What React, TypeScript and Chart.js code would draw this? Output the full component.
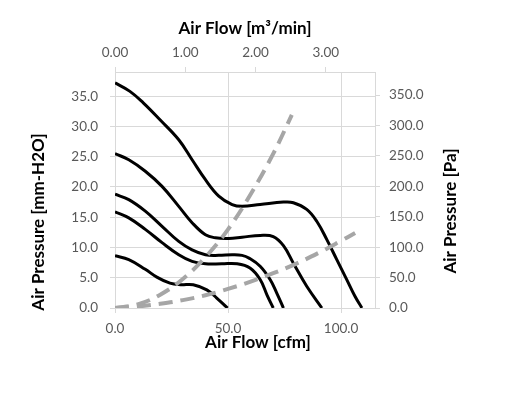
import React, { useEffect, useRef } from "react";
import { Chart, registerables } from "chart.js";

Chart.register(...registerables);

// ---- Data ----
// Fan curves: air flow [cfm] vs static pressure [mm-H2O]
const curve1Flow = [0, 6.6, 12.5, 19.9, 28.2, 34.1, 40.0, 45.9, 51.8, 56.2, 64.2, 74.5, 78.9, 84.8, 89.3, 93.7, 98.1, 102.5, 106.2, 109.2];
const curve1Pres = [37.2, 35.8, 33.9, 31.1, 27.8, 24.5, 21.2, 18.5, 17.1, 16.8, 17.1, 17.5, 17.4, 16.3, 14.3, 11.3, 8.0, 4.7, 1.9, 0];

const curve2Flow = [0, 6.1, 13.4, 20.8, 28.2, 34.1, 40.0, 44.4, 50.3, 56.2, 64.2, 70.0, 74.5, 78.9, 84.8, 91.5];
const curve2Pres = [25.5, 24.5, 22.6, 20.1, 16.8, 14.1, 12.1, 11.6, 11.5, 11.7, 12.0, 11.8, 10.3, 7.4, 3.6, 0];

const curve3Flow = [0, 6.1, 13.4, 20.8, 28.2, 34.1, 40.0, 45.9, 51.8, 56.2, 59.5, 64.2, 68.6, 71.5, 74.5];
const curve3Pres = [18.8, 17.9, 16.0, 13.5, 11.0, 9.6, 8.8, 8.7, 8.8, 8.7, 8.2, 6.9, 4.7, 2.5, 0];

const curve4Flow = [0, 6.1, 13.4, 20.8, 28.2, 34.1, 40.0, 47.3, 54.0, 59.7, 64.2, 67.3, 70.0];
const curve4Pres = [15.9, 14.9, 13.0, 10.8, 8.8, 7.7, 7.3, 7.3, 7.3, 6.6, 4.7, 2.1, 0];

const curve5Flow = [0, 6.1, 13.4, 18.5, 24.3, 29.0, 34.6, 40.6, 45.0, 49.8];
const curve5Pres = [8.65, 8.0, 6.4, 5.1, 4.1, 3.85, 3.85, 3.0, 1.65, 0];

// System impedance curves (dashed grey)
const steepFlow = [0, 10, 20, 30, 40, 50, 60, 70, 78.2];
const steepPres = [0, 0.6, 2.2, 4.8, 8.4, 13.0, 18.8, 25.5, 31.9];

const shallowFlow = [0, 10, 20, 30, 40, 50, 60, 70, 80, 90, 100, 106.2];
const shallowPres = [0, 0.25, 0.7, 1.3, 2.1, 3.15, 4.35, 5.75, 7.3, 9.1, 11.1, 12.4];

// Axis ranges and titles
const cfmMax = 115;
const m3Max = 3.7;
const mmMax = 39;
const paMax = 388;
const titleBottom = "Air Flow [cfm]";
const titleTop = "Air Flow [m³/min]";
const titleLeft = "Air Pressure [mm-H2O]";
const titleRight = "Air Pressure [Pa]";

const toPoints = (xs: number[], ys: number[]) => xs.map((x, i) => ({ x, y: ys[i] }));

const GRID = "#d9d9d9";
const TICK = "#595959";
const FONT = "Lato";

const titlesPlugin = {
  id: "axisTitles",
  afterDraw(chart: any) {
    const { ctx, chartArea } = chart;
    const { left, right, top, bottom } = chartArea;
    ctx.save();
    ctx.fillStyle = "#000000";
    ctx.font = `bold 17px ${FONT}`;
    ctx.textAlign = "center";
    ctx.textBaseline = "middle";
    ctx.fillText(titleTop, (left + right) / 2, top - 43);
    ctx.fillText(titleBottom, (left + right) / 2 + 13, bottom + 35);
    ctx.save();
    ctx.translate(left - 76, bottom - 86);
    ctx.rotate(-Math.PI / 2);
    ctx.fillText(titleLeft, 0, 0);
    ctx.restore();
    ctx.save();
    ctx.translate(right + 76, (top + bottom) / 2 + 21);
    ctx.rotate(-Math.PI / 2);
    ctx.fillText(titleRight, 0, 0);
    ctx.restore();
    ctx.restore();
  },
};

export default function App() {
  const ref = useRef<HTMLCanvasElement | null>(null);

  useEffect(() => {
    if (!ref.current) return;
    const black = (xs: number[], ys: number[]) => ({
      data: toPoints(xs, ys),
      borderColor: "#000000",
      borderWidth: 3,
      pointRadius: 0,
      fill: false,
      tension: 0.4,
      xAxisID: "x",
      yAxisID: "y",
    });
    const grey = (xs: number[], ys: number[]) => ({
      data: toPoints(xs, ys),
      borderColor: "#a6a6a6",
      borderWidth: 4,
      borderDash: [14, 8],
      borderCapStyle: "butt" as const,
      pointRadius: 0,
      fill: false,
      tension: 0.4,
      xAxisID: "x",
      yAxisID: "y",
    });
    const tickFont = { family: FONT, size: 13.5 };
    const chart = new Chart(ref.current, {
      type: "line",
      data: {
        datasets: [
          grey(steepFlow, steepPres),
          grey(shallowFlow, shallowPres),
          black(curve1Flow, curve1Pres),
          black(curve2Flow, curve2Pres),
          black(curve3Flow, curve3Pres),
          black(curve4Flow, curve4Pres),
          black(curve5Flow, curve5Pres),
        ] as any,
      },
      options: {
        animation: false,
        responsive: false,
        devicePixelRatio: 1,
        layout: { padding: 0 },
        plugins: { legend: { display: false }, tooltip: { enabled: false } },
        scales: {
          x: {
            type: "linear",
            position: "bottom",
            min: 0,
            max: cfmMax,
            ticks: {
              stepSize: 50,
              includeBounds: false,
              maxRotation: 0,
              font: tickFont,
              color: TICK,
              padding: 8,
              callback: (v: any) => Number(v).toFixed(1),
            },
            grid: { color: GRID, tickLength: 5, lineWidth: 1 },
            border: { color: GRID },
            afterFit: (s: any) => {
              s.height = 88;
            },
          },
          x2: {
            type: "linear",
            position: "top",
            min: 0,
            max: m3Max,
            ticks: {
              stepSize: 1,
              includeBounds: false,
              maxRotation: 0,
              font: tickFont,
              color: TICK,
              padding: 6,
              callback: (v: any) => Number(v).toFixed(2),
            },
            grid: { drawOnChartArea: false, color: GRID, tickLength: 5 },
            border: { color: GRID },
            afterFit: (s: any) => {
              s.height = 72;
            },
          },
          y: {
            type: "linear",
            position: "left",
            min: 0,
            max: mmMax,
            ticks: {
              stepSize: 5,
              includeBounds: false,
              font: tickFont,
              color: TICK,
              padding: 12,
              callback: (v: any) => Number(v).toFixed(1),
            },
            grid: { color: GRID, tickLength: 5, lineWidth: 1 },
            border: { color: GRID },
            afterFit: (s: any) => {
              s.width = 115;
            },
          },
          y2: {
            type: "linear",
            position: "right",
            min: 0,
            max: paMax,
            ticks: {
              stepSize: 50,
              includeBounds: false,
              font: tickFont,
              color: TICK,
              padding: 9,
              callback: (v: any) => Number(v).toFixed(1),
            },
            grid: { drawOnChartArea: false, color: GRID, tickLength: 5 },
            border: { color: GRID },
            afterFit: (s: any) => {
              s.width = 139;
            },
          },
        },
      } as any,
      plugins: [titlesPlugin],
    });
    return () => chart.destroy();
  }, []);

  return (
    <div style={{ position: "absolute", left: 0, top: 0, width: 514, height: 396, background: "#ffffff" }}>
      <canvas ref={ref} width={514} height={396} />
    </div>
  );
}
